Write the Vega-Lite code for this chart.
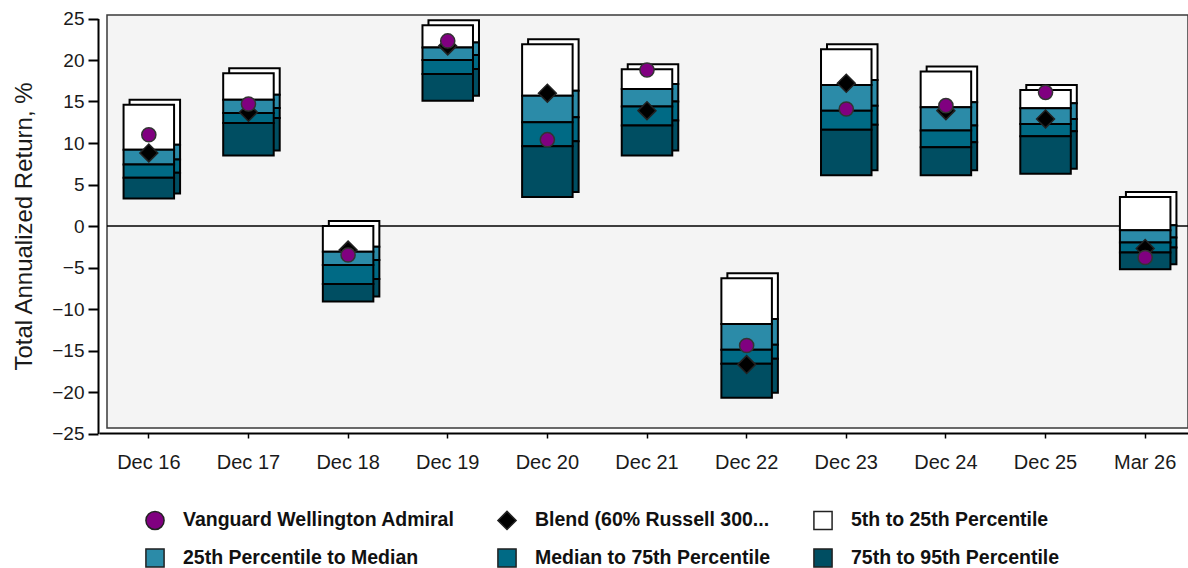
{
  "$schema": "https://vega.github.io/schema/vega-lite/v6.json",
  "width": 1081,
  "height": 413,
  "autosize": {"type": "none"},
  "padding": {"left": 107, "top": 15, "right": 0, "bottom": 140},
  "background": "white",
  "datasets": {
    "ranges": [
      {"period": "Dec 16", "series": "5th to 25th Percentile", "lo": 9.2, "hi": 14.6},
      {"period": "Dec 16", "series": "25th Percentile to Median", "lo": 7.4, "hi": 9.2},
      {"period": "Dec 16", "series": "Median to 75th Percentile", "lo": 5.8, "hi": 7.4},
      {"period": "Dec 16", "series": "75th to 95th Percentile", "lo": 3.3, "hi": 5.8},
      {"period": "Dec 17", "series": "5th to 25th Percentile", "lo": 15.2, "hi": 18.4},
      {"period": "Dec 17", "series": "25th Percentile to Median", "lo": 13.6, "hi": 15.2},
      {"period": "Dec 17", "series": "Median to 75th Percentile", "lo": 12.4, "hi": 13.6},
      {"period": "Dec 17", "series": "75th to 95th Percentile", "lo": 8.5, "hi": 12.4},
      {"period": "Dec 18", "series": "5th to 25th Percentile", "lo": -3.1, "hi": 0.0},
      {"period": "Dec 18", "series": "25th Percentile to Median", "lo": -4.7, "hi": -3.1},
      {"period": "Dec 18", "series": "Median to 75th Percentile", "lo": -7.0, "hi": -4.7},
      {"period": "Dec 18", "series": "75th to 95th Percentile", "lo": -9.1, "hi": -7.0},
      {"period": "Dec 19", "series": "5th to 25th Percentile", "lo": 21.5, "hi": 24.2},
      {"period": "Dec 19", "series": "25th Percentile to Median", "lo": 20.0, "hi": 21.5},
      {"period": "Dec 19", "series": "Median to 75th Percentile", "lo": 18.3, "hi": 20.0},
      {"period": "Dec 19", "series": "75th to 95th Percentile", "lo": 15.1, "hi": 18.3},
      {"period": "Dec 20", "series": "5th to 25th Percentile", "lo": 15.7, "hi": 21.9},
      {"period": "Dec 20", "series": "25th Percentile to Median", "lo": 12.5, "hi": 15.7},
      {"period": "Dec 20", "series": "Median to 75th Percentile", "lo": 9.6, "hi": 12.5},
      {"period": "Dec 20", "series": "75th to 95th Percentile", "lo": 3.5, "hi": 9.6},
      {"period": "Dec 21", "series": "5th to 25th Percentile", "lo": 16.5, "hi": 18.9},
      {"period": "Dec 21", "series": "25th Percentile to Median", "lo": 14.4, "hi": 16.5},
      {"period": "Dec 21", "series": "Median to 75th Percentile", "lo": 12.1, "hi": 14.4},
      {"period": "Dec 21", "series": "75th to 95th Percentile", "lo": 8.5, "hi": 12.1},
      {"period": "Dec 22", "series": "5th to 25th Percentile", "lo": -11.8, "hi": -6.3},
      {"period": "Dec 22", "series": "25th Percentile to Median", "lo": -14.9, "hi": -11.8},
      {"period": "Dec 22", "series": "Median to 75th Percentile", "lo": -16.6, "hi": -14.9},
      {"period": "Dec 22", "series": "75th to 95th Percentile", "lo": -20.7, "hi": -16.6},
      {"period": "Dec 23", "series": "5th to 25th Percentile", "lo": 17.0, "hi": 21.3},
      {"period": "Dec 23", "series": "25th Percentile to Median", "lo": 13.9, "hi": 17.0},
      {"period": "Dec 23", "series": "Median to 75th Percentile", "lo": 11.6, "hi": 13.9},
      {"period": "Dec 23", "series": "75th to 95th Percentile", "lo": 6.1, "hi": 11.6},
      {"period": "Dec 24", "series": "5th to 25th Percentile", "lo": 14.3, "hi": 18.6},
      {"period": "Dec 24", "series": "25th Percentile to Median", "lo": 11.5, "hi": 14.3},
      {"period": "Dec 24", "series": "Median to 75th Percentile", "lo": 9.5, "hi": 11.5},
      {"period": "Dec 24", "series": "75th to 95th Percentile", "lo": 6.1, "hi": 9.5},
      {"period": "Dec 25", "series": "5th to 25th Percentile", "lo": 14.2, "hi": 16.4},
      {"period": "Dec 25", "series": "25th Percentile to Median", "lo": 12.3, "hi": 14.2},
      {"period": "Dec 25", "series": "Median to 75th Percentile", "lo": 10.8, "hi": 12.3},
      {"period": "Dec 25", "series": "75th to 95th Percentile", "lo": 6.3, "hi": 10.8},
      {"period": "Mar 26", "series": "5th to 25th Percentile", "lo": -0.5, "hi": 3.5},
      {"period": "Mar 26", "series": "25th Percentile to Median", "lo": -2.0, "hi": -0.5},
      {"period": "Mar 26", "series": "Median to 75th Percentile", "lo": -3.2, "hi": -2.0},
      {"period": "Mar 26", "series": "75th to 95th Percentile", "lo": -5.2, "hi": -3.2}
    ],
    "points": [
      {"period": "Dec 16", "series": "Vanguard Wellington Admiral", "value": 11.0},
      {"period": "Dec 17", "series": "Vanguard Wellington Admiral", "value": 14.7},
      {"period": "Dec 18", "series": "Vanguard Wellington Admiral", "value": -3.5},
      {"period": "Dec 19", "series": "Vanguard Wellington Admiral", "value": 22.3},
      {"period": "Dec 20", "series": "Vanguard Wellington Admiral", "value": 10.4},
      {"period": "Dec 21", "series": "Vanguard Wellington Admiral", "value": 18.8},
      {"period": "Dec 22", "series": "Vanguard Wellington Admiral", "value": -14.4},
      {"period": "Dec 23", "series": "Vanguard Wellington Admiral", "value": 14.1},
      {"period": "Dec 24", "series": "Vanguard Wellington Admiral", "value": 14.5},
      {"period": "Dec 25", "series": "Vanguard Wellington Admiral", "value": 16.1},
      {"period": "Mar 26", "series": "Vanguard Wellington Admiral", "value": -3.8},
      {"period": "Dec 16", "series": "Blend (60% Russell 300...", "value": 8.8},
      {"period": "Dec 17", "series": "Blend (60% Russell 300...", "value": 13.7},
      {"period": "Dec 18", "series": "Blend (60% Russell 300...", "value": -2.9},
      {"period": "Dec 19", "series": "Blend (60% Russell 300...", "value": 21.7},
      {"period": "Dec 20", "series": "Blend (60% Russell 300...", "value": 16.0},
      {"period": "Dec 21", "series": "Blend (60% Russell 300...", "value": 13.9},
      {"period": "Dec 22", "series": "Blend (60% Russell 300...", "value": -16.7},
      {"period": "Dec 23", "series": "Blend (60% Russell 300...", "value": 17.2},
      {"period": "Dec 24", "series": "Blend (60% Russell 300...", "value": 13.9},
      {"period": "Dec 25", "series": "Blend (60% Russell 300...", "value": 12.9},
      {"period": "Mar 26", "series": "Blend (60% Russell 300...", "value": -2.7}
    ]
  },
  "config": {
    "view": {"fill": "#f4f4f4", "stroke": "#3a3a3a", "strokeWidth": 1.5},
    "font": "Liberation Sans",
    "axis": {"labelFont": "Liberation Sans", "titleFont": "Liberation Sans", "labelColor": "#1a1a1a", "titleColor": "#1a1a1a", "domainColor": "#000", "tickColor": "#000", "grid": false},
    "axisX": {"offset": 5, "domainWidth": 2, "tickWidth": 1.5, "tickSize": 5, "labelFontSize": 20, "labelPadding": 14, "labelAngle": 0},
    "axisY": {"offset": 9, "domainWidth": 2, "tickWidth": 2, "tickSize": 10, "labelFontSize": 19, "labelPadding": 4, "titleFontSize": 24, "titleFontWeight": "normal", "titlePadding": 15},
    "legend": {"orient": "none", "legendX": 38, "legendY": 495, "columns": 3, "direction": "horizontal", "symbolSize": 330, "labelFont": "Liberation Sans", "labelFontSize": 19.5, "labelFontWeight": "bold", "labelColor": "#111", "columnPadding": 39, "rowPadding": 12, "labelOffset": 18, "symbolStrokeColor": "#222", "symbolStrokeWidth": 1.5, "labelLimit": 400}
  },
  "layer": [
    {
      "data": {"values": [{}]},
      "mark": {"type": "rule", "color": "#000", "strokeWidth": 1.5},
      "encoding": {"y": {"datum": 0, "type": "quantitative", "title": "Total Annualized Return, %", "scale": {"domain": [-25, 25], "range": [418.5, 3.5], "nice": false, "zero": false}, "axis": {"values": [-25, -20, -15, -10, -5, 0, 5, 10, 15, 20, 25]}}}
    },
    {
      "data": {"name": "ranges"},
      "mark": {"type": "bar", "width": {"band": 0.507}, "stroke": "#000", "strokeWidth": 2, "xOffset": 6, "x2Offset": 6, "yOffset": -5, "y2Offset": -5},
      "encoding": {
        "x": {"field": "period", "type": "nominal", "sort": null, "title": null, "scale": {"domain": ["Dec 16", "Dec 17", "Dec 18", "Dec 19", "Dec 20", "Dec 21", "Dec 22", "Dec 23", "Dec 24", "Dec 25", "Mar 26"], "range": [-8, 1088], "paddingInner": 0, "paddingOuter": 0}},
        "y": {"field": "hi", "type": "quantitative", "title": "Total Annualized Return, %"},
        "y2": {"field": "lo"},
        "fill": {"field": "series", "type": "nominal", "title": null, "scale": {"domain": ["Vanguard Wellington Admiral", "Blend (60% Russell 300...", "5th to 25th Percentile", "25th Percentile to Median", "Median to 75th Percentile", "75th to 95th Percentile"], "range": ["#800080", "#000000", "#ffffff", "#2b8ba8", "#006a85", "#004e62"]}}
      }
    },
    {
      "data": {"name": "ranges"},
      "mark": {"type": "bar", "width": {"band": 0.507}, "stroke": "#000", "strokeWidth": 2},
      "encoding": {
        "x": {"field": "period", "type": "nominal", "sort": null, "title": null},
        "y": {"field": "hi", "type": "quantitative", "title": "Total Annualized Return, %"},
        "y2": {"field": "lo"},
        "fill": {"field": "series", "type": "nominal", "title": null}
      }
    },
    {
      "data": {"name": "points"},
      "transform": [{"filter": "datum.series !== 'Vanguard Wellington Admiral'"}],
      "mark": {"type": "point", "filled": true, "size": 320, "stroke": "#222", "strokeWidth": 1.5, "opacity": 1},
      "encoding": {
        "x": {"field": "period", "type": "nominal", "sort": null, "title": null},
        "y": {"field": "value", "type": "quantitative", "title": "Total Annualized Return, %"},
        "fill": {"field": "series", "type": "nominal", "title": null},
        "shape": {"field": "series", "type": "nominal", "title": null, "scale": {"domain": ["Vanguard Wellington Admiral", "Blend (60% Russell 300...", "5th to 25th Percentile", "25th Percentile to Median", "Median to 75th Percentile", "75th to 95th Percentile"], "range": ["circle", "diamond", "square", "square", "square", "square"]}}
      }
    },
    {
      "data": {"name": "points"},
      "transform": [{"filter": "datum.series === 'Vanguard Wellington Admiral'"}],
      "mark": {"type": "point", "filled": true, "size": 200, "stroke": "#333", "strokeWidth": 1.5, "opacity": 1},
      "encoding": {
        "x": {"field": "period", "type": "nominal", "sort": null, "title": null},
        "y": {"field": "value", "type": "quantitative", "title": "Total Annualized Return, %"},
        "fill": {"field": "series", "type": "nominal", "title": null},
        "shape": {"field": "series", "type": "nominal", "title": null}
      }
    }
  ]
}
